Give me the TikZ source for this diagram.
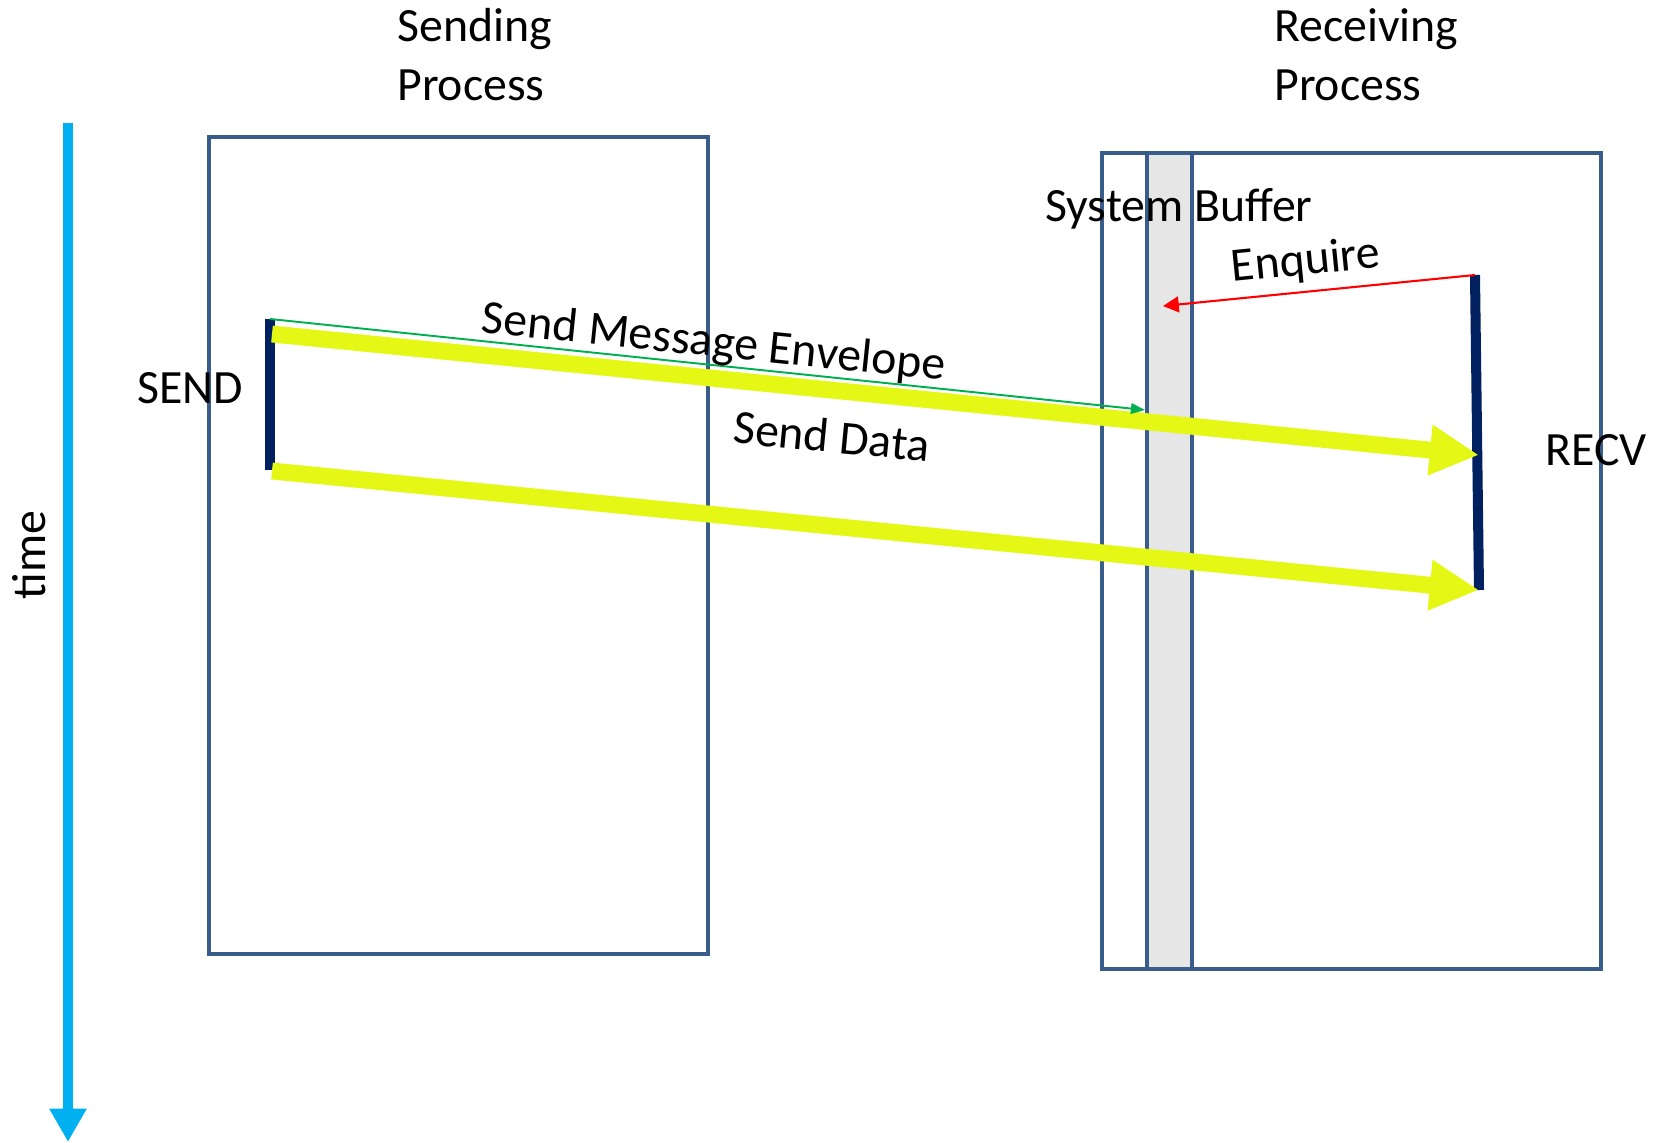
\documentclass[tikz,border=0pt]{standalone}
\usepackage{fontspec}
\setmainfont{Carlito}
\usetikzlibrary{arrows.meta}
\definecolor{boxblue}{RGB}{56,93,138}
\definecolor{barnavy}{RGB}{0,32,96}
\definecolor{datayellow}{RGB}{229,247,20}
\definecolor{timeblue}{RGB}{0,176,240}
\definecolor{envgreen}{RGB}{0,176,80}
\definecolor{bufgray}{RGB}{230,230,230}

\begin{document}
\begin{tikzpicture}[x=0.02cm,y=-0.02cm,
  procbox/.style={draw=boxblue,line width=2.6pt},
  callbar/.style={draw=barnavy,line width=5.7pt},
  databar/.style={draw=datayellow,line width=9.6pt,-{Triangle[length=28pt,width=27pt]}},
  lbl/.style={font=\fontsize{27.2}{33.5}\selectfont,inner sep=0pt}]
\useasboundingbox (0,0) rectangle (1658,1143);
% time axis
\draw[timeblue,line width=6.2pt,-{Triangle[length=19pt,width=20pt]}] (68,123)--(68,1142);
\node[lbl,rotate=90] (time) at (29,555) {time};
% the two processes
\draw[procbox] (209,137) rectangle (708,954);
\draw[procbox] (1102,153) rectangle (1601,969);
\draw[procbox,fill=bufgray] (1147,153) rectangle (1192,969);
\node[lbl,align=left,anchor=west] (sendproc) at (397,55) {Sending\\Process};
\node[lbl,align=left,anchor=west] (recvproc) at (1274,55) {Receiving\\Process};
\node[lbl] (buffer) at (1179,209) {System Buffer};
% calls
\coordinate (sendtop) at (270,319);
\coordinate (sendbot) at (270,470);
\coordinate (recvtop) at (1475,275);
\coordinate (recvbot) at (1479,590);
\draw[callbar] (sendtop)--(sendbot);
\draw[callbar] (recvtop)--(recvbot);
\node[lbl] (send) at (190,388) {SEND};
\node[lbl] (recv) at (1596,450) {RECV};
% messages
\coordinate (env) at (1145,410);
\coordinate (enq) at (1163,306);
\draw[databar] (272,334)--(1479,455);
\draw[databar] (272,471)--(recvbot);
\draw[envgreen,line width=1.1pt,-{Triangle[length=8pt,width=6pt]}] (sendtop)--(env);
\draw[red,line width=1.2pt,-{Triangle[length=9pt,width=9pt]}] (recvtop)--(enq);
\node[lbl,rotate=-5.9] (envlbl) at (714,344) {Send Message Envelope};
\node[lbl,rotate=-5.5] (datalbl) at (832,436) {Send Data};
\node[lbl,rotate=5.7] (enqlbl) at (1306,262) {Enquire};
\end{tikzpicture}
\end{document}
